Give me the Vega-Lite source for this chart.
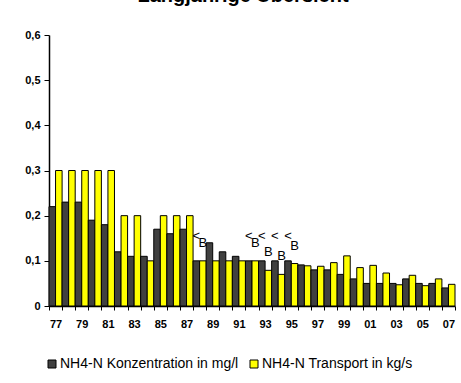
{
  "$schema": "https://vega.github.io/schema/vega-lite/v6.json",
  "autosize": {"type": "none"},
  "width": 406,
  "height": 271,
  "padding": {"left": 49, "top": 35, "right": 6, "bottom": 77},
  "background": "white",
  "config": {
    "view": {"stroke": null},
    "font": "Liberation Sans"
  },
  "title": {
    "text": "Langjährige Übersicht",
    "font": "Liberation Sans",
    "fontSize": 20,
    "fontWeight": "bold",
    "color": "black",
    "anchor": "middle",
    "frame": "group",
    "baseline": "alphabetic",
    "offset": 7,
    "dx": -9
  },
  "data": {
    "values": [
      {"year": "77", "series": "NH4-N Konzentration in mg/l", "value": 0.22},
      {"year": "77", "series": "NH4-N Transport in kg/s", "value": 0.30},
      {"year": "78", "series": "NH4-N Konzentration in mg/l", "value": 0.23},
      {"year": "78", "series": "NH4-N Transport in kg/s", "value": 0.30},
      {"year": "79", "series": "NH4-N Konzentration in mg/l", "value": 0.23},
      {"year": "79", "series": "NH4-N Transport in kg/s", "value": 0.30},
      {"year": "80", "series": "NH4-N Konzentration in mg/l", "value": 0.19},
      {"year": "80", "series": "NH4-N Transport in kg/s", "value": 0.30},
      {"year": "81", "series": "NH4-N Konzentration in mg/l", "value": 0.18},
      {"year": "81", "series": "NH4-N Transport in kg/s", "value": 0.30},
      {"year": "82", "series": "NH4-N Konzentration in mg/l", "value": 0.12},
      {"year": "82", "series": "NH4-N Transport in kg/s", "value": 0.20},
      {"year": "83", "series": "NH4-N Konzentration in mg/l", "value": 0.11},
      {"year": "83", "series": "NH4-N Transport in kg/s", "value": 0.20},
      {"year": "84", "series": "NH4-N Konzentration in mg/l", "value": 0.11},
      {"year": "84", "series": "NH4-N Transport in kg/s", "value": 0.10},
      {"year": "85", "series": "NH4-N Konzentration in mg/l", "value": 0.17},
      {"year": "85", "series": "NH4-N Transport in kg/s", "value": 0.20},
      {"year": "86", "series": "NH4-N Konzentration in mg/l", "value": 0.16},
      {"year": "86", "series": "NH4-N Transport in kg/s", "value": 0.20},
      {"year": "87", "series": "NH4-N Konzentration in mg/l", "value": 0.17},
      {"year": "87", "series": "NH4-N Transport in kg/s", "value": 0.20},
      {"year": "88", "series": "NH4-N Konzentration in mg/l", "value": 0.10, "note": "<"},
      {"year": "88", "series": "NH4-N Transport in kg/s", "value": 0.10, "note": "B"},
      {"year": "89", "series": "NH4-N Konzentration in mg/l", "value": 0.14},
      {"year": "89", "series": "NH4-N Transport in kg/s", "value": 0.10},
      {"year": "90", "series": "NH4-N Konzentration in mg/l", "value": 0.12},
      {"year": "90", "series": "NH4-N Transport in kg/s", "value": 0.10},
      {"year": "91", "series": "NH4-N Konzentration in mg/l", "value": 0.11},
      {"year": "91", "series": "NH4-N Transport in kg/s", "value": 0.10},
      {"year": "92", "series": "NH4-N Konzentration in mg/l", "value": 0.10, "note": "<"},
      {"year": "92", "series": "NH4-N Transport in kg/s", "value": 0.10, "note": "B"},
      {"year": "93", "series": "NH4-N Konzentration in mg/l", "value": 0.10, "note": "<"},
      {"year": "93", "series": "NH4-N Transport in kg/s", "value": 0.079, "note": "B"},
      {"year": "94", "series": "NH4-N Konzentration in mg/l", "value": 0.10, "note": "<"},
      {"year": "94", "series": "NH4-N Transport in kg/s", "value": 0.07, "note": "B"},
      {"year": "95", "series": "NH4-N Konzentration in mg/l", "value": 0.10, "note": "<"},
      {"year": "95", "series": "NH4-N Transport in kg/s", "value": 0.094, "note": "B"},
      {"year": "96", "series": "NH4-N Konzentration in mg/l", "value": 0.091},
      {"year": "96", "series": "NH4-N Transport in kg/s", "value": 0.089},
      {"year": "97", "series": "NH4-N Konzentration in mg/l", "value": 0.08},
      {"year": "97", "series": "NH4-N Transport in kg/s", "value": 0.088},
      {"year": "98", "series": "NH4-N Konzentration in mg/l", "value": 0.08},
      {"year": "98", "series": "NH4-N Transport in kg/s", "value": 0.096},
      {"year": "99", "series": "NH4-N Konzentration in mg/l", "value": 0.07},
      {"year": "99", "series": "NH4-N Transport in kg/s", "value": 0.111},
      {"year": "00", "series": "NH4-N Konzentration in mg/l", "value": 0.06},
      {"year": "00", "series": "NH4-N Transport in kg/s", "value": 0.085},
      {"year": "01", "series": "NH4-N Konzentration in mg/l", "value": 0.05},
      {"year": "01", "series": "NH4-N Transport in kg/s", "value": 0.09},
      {"year": "02", "series": "NH4-N Konzentration in mg/l", "value": 0.05},
      {"year": "02", "series": "NH4-N Transport in kg/s", "value": 0.073},
      {"year": "03", "series": "NH4-N Konzentration in mg/l", "value": 0.05},
      {"year": "03", "series": "NH4-N Transport in kg/s", "value": 0.047},
      {"year": "04", "series": "NH4-N Konzentration in mg/l", "value": 0.06},
      {"year": "04", "series": "NH4-N Transport in kg/s", "value": 0.068},
      {"year": "05", "series": "NH4-N Konzentration in mg/l", "value": 0.05},
      {"year": "05", "series": "NH4-N Transport in kg/s", "value": 0.045},
      {"year": "06", "series": "NH4-N Konzentration in mg/l", "value": 0.05},
      {"year": "06", "series": "NH4-N Transport in kg/s", "value": 0.06},
      {"year": "07", "series": "NH4-N Konzentration in mg/l", "value": 0.04},
      {"year": "07", "series": "NH4-N Transport in kg/s", "value": 0.048}
    ]
  },
  "encoding": {
    "x": {
      "field": "year",
      "type": "nominal",
      "sort": null,
      "scale": {"paddingInner": 0, "paddingOuter": 0},
      "axis": {
        "title": null,
        "labelAngle": 0,
        "labelOverlap": false,
        "labelExpr": "parseInt(datum.value, 10) % 2 == 1 ? datum.label : ''",
        "tickBand": "extent",
        "tickSize": 4,
        "tickColor": "black",
        "domainColor": "black",
        "domainWidth": 1.5,
        "labelFont": "Liberation Sans",
        "labelFontSize": 11,
        "labelFontWeight": "bold",
        "labelColor": "black",
        "labelPadding": 8
      }
    },
    "xOffset": {"field": "series", "type": "nominal", "scale": {"paddingInner": 0}},
    "y": {
      "field": "value",
      "type": "quantitative",
      "scale": {"domain": [0, 0.6], "nice": false},
      "axis": {
        "title": null,
        "values": [0, 0.1, 0.2, 0.3, 0.4, 0.5, 0.6],
        "grid": false,
        "labelExpr": "datum.value == 0 ? '0' : replace(format(datum.value, '.1f'), '.', ',')",
        "tickSize": 5,
        "tickColor": "black",
        "domainColor": "black",
        "domainWidth": 1.5,
        "labelFont": "Liberation Sans",
        "labelFontSize": 11,
        "labelFontWeight": "bold",
        "labelColor": "black",
        "labelPadding": 4
      }
    }
  },
  "layer": [
    {
      "mark": {"type": "bar", "stroke": "black", "strokeWidth": 1},
      "encoding": {
        "fill": {
          "field": "series",
          "type": "nominal",
          "scale": {"range": ["#404040", "#ffff00"]},
          "legend": {
            "title": null,
            "orient": "none",
            "direction": "horizontal",
            "legendX": -4,
            "legendY": 322,
            "symbolType": "square",
            "symbolSize": 64,
            "symbolStrokeColor": "black",
            "symbolStrokeWidth": 1,
            "symbolOpacity": 1,
            "labelFont": "Liberation Sans",
            "labelFontSize": 14,
            "labelColor": "black",
            "labelOffset": 1,
            "columnPadding": 8,
            "labelLimit": 300,
            "padding": 0
          }
        }
      }
    },
    {
      "transform": [{"filter": "datum.note == '<'"}],
      "mark": {"type": "text", "dy": -25, "baseline": "middle", "fontSize": 13, "font": "Liberation Sans", "color": "black"},
      "encoding": {"text": {"field": "note"}}
    },
    {
      "transform": [{"filter": "datum.note == 'B'"}],
      "mark": {"type": "text", "dy": -18, "baseline": "middle", "fontSize": 13, "font": "Liberation Sans", "color": "black"},
      "encoding": {"text": {"field": "note"}}
    }
  ]
}
